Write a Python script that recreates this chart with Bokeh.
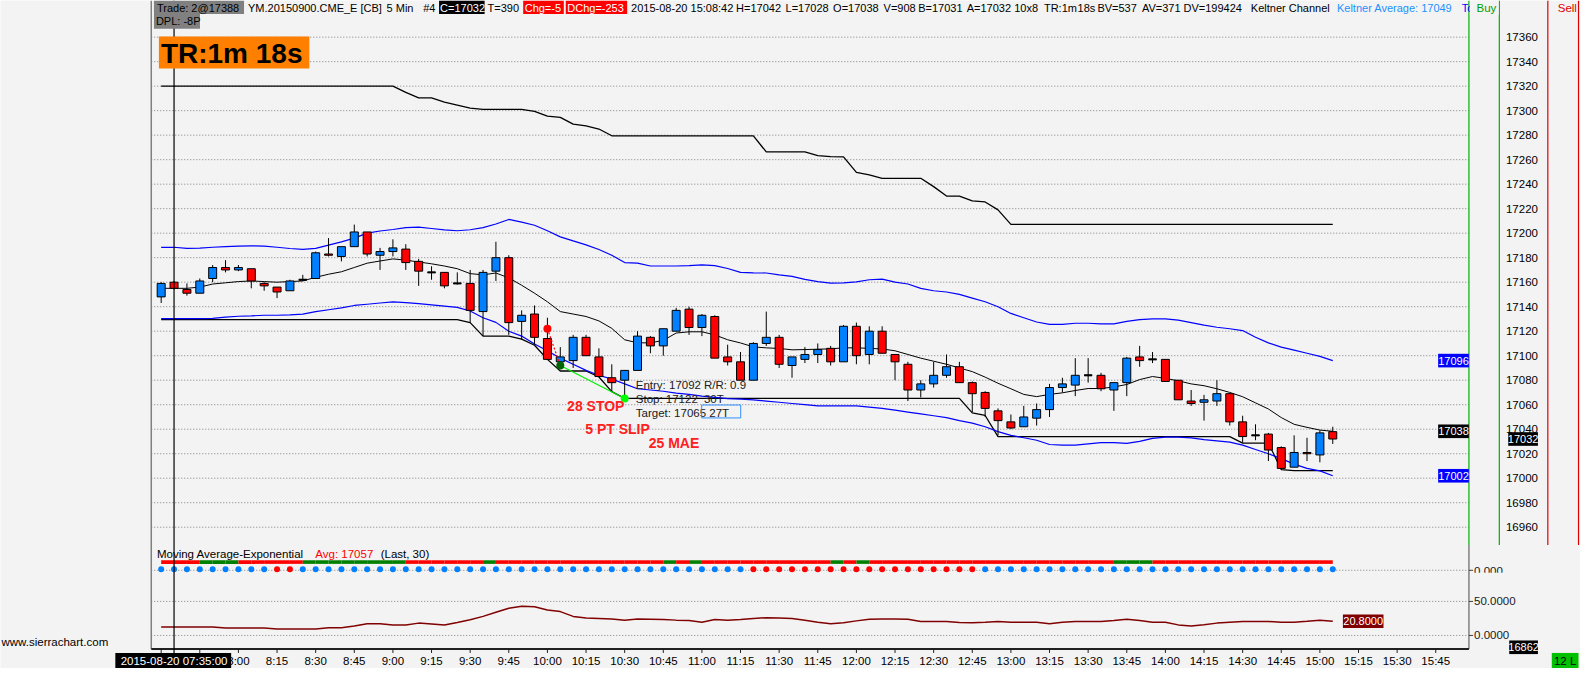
from bokeh.plotting import figure
from bokeh.models import Range1d
from bokeh.core.properties import value
from bokeh.embed import file_html
from bokeh.resources import INLINE

# ---------------- data ----------------
opens = [17148, 17160, 17154, 17151, 17163, 17172, 17170, 17171, 17159, 17156,
         17153, 17162, 17163, 17183, 17181, 17189, 17201, 17182, 17185, 17187,
         17177, 17168, 17168, 17159, 17159, 17136, 17169, 17180, 17128, 17134,
         17114, 17095, 17096, 17115, 17099, 17082, 17080, 17088, 17115, 17108,
         17120, 17138, 17123, 17132, 17099, 17095, 17080, 17110, 17115, 17092,
         17097, 17101, 17106, 17095, 17124, 17101, 17120, 17101, 17093, 17072,
         17077, 17084, 17091, 17078, 17070, 17055, 17046, 17042, 17049, 17056,
         17074, 17076, 17084, 17084, 17072, 17078, 17099, 17097, 17097, 17080,
         17063, 17062, 17063, 17069, 17046, 17035, 17036, 17025, 17009, 17021,
         17019, 17038]
highs = [17160, 17161, 17159, 17163, 17174, 17178, 17174, 17171, 17160, 17156,
         17162, 17166, 17185, 17196, 17189, 17207, 17201, 17188, 17195, 17191,
         17179, 17173, 17168, 17168, 17170, 17170, 17193, 17182, 17137, 17141,
         17131, 17107, 17117, 17117, 17106, 17093, 17088, 17120, 17116, 17122,
         17139, 17140, 17134, 17133, 17109, 17103, 17111, 17136, 17117, 17099,
         17107, 17110, 17108, 17125, 17127, 17124, 17124, 17101, 17095, 17080,
         17095, 17101, 17095, 17079, 17071, 17057, 17052, 17059, 17061, 17077,
         17082, 17098, 17098, 17086, 17078, 17099, 17108, 17103, 17097, 17080,
         17072, 17068, 17080, 17069, 17051, 17044, 17037, 17026, 17035, 17033,
         17039, 17042]
lows = [17143, 17154, 17149, 17151, 17160, 17168, 17169, 17155, 17153, 17147,
        17153, 17161, 17163, 17181, 17177, 17189, 17181, 17170, 17181, 17170,
        17157, 17162, 17155, 17158, 17127, 17116, 17161, 17117, 17113, 17109,
        17097, 17089, 17090, 17100, 17083, 17071, 17065, 17088, 17102, 17100,
        17120, 17117, 17116, 17098, 17092, 17080, 17080, 17108, 17090, 17082,
        17094, 17094, 17092, 17095, 17093, 17093, 17102, 17080, 17063, 17066,
        17074, 17082, 17078, 17054, 17050, 17035, 17040, 17042, 17043, 17050,
        17070, 17067, 17078, 17071, 17055, 17067, 17091, 17094, 17079, 17064,
        17059, 17047, 17059, 17043, 17029, 17031, 17014, 17008, 17009, 17014,
        17013, 17028]
closes = [17159, 17155, 17151, 17161, 17172, 17170, 17172, 17161, 17157, 17152,
          17161, 17162, 17184, 17182, 17189, 17201, 17183, 17185, 17188, 17176,
          17169, 17168, 17157, 17159, 17137, 17168, 17180, 17127, 17133, 17115,
          17097, 17099, 17115, 17100, 17083, 17078, 17088, 17116, 17108, 17122,
          17137, 17123, 17133, 17098, 17095, 17080, 17110, 17115, 17093, 17099,
          17101, 17105, 17095, 17124, 17100, 17120, 17102, 17095, 17072, 17077,
          17084, 17091, 17078, 17069, 17057, 17047, 17041, 17050, 17056, 17074,
          17077, 17084, 17084, 17073, 17078, 17098, 17096, 17097, 17079, 17064,
          17061, 17064, 17069, 17046, 17034, 17035, 17023, 17008, 17021, 17020,
          17037, 17032]
kc_mid = [17155, 17155, 17155, 17156, 17158.5, 17159.5, 17160.5, 17161, 17160.5, 17160,
          17160.5, 17161, 17164, 17166.5, 17168.5, 17172, 17175.5, 17177.3, 17179, 17178,
          17176.5, 17175, 17173.2, 17171, 17167, 17166, 17167.5, 17163.5, 17157.5, 17151,
          17144, 17136, 17134, 17132, 17128.4, 17122.3, 17113, 17110.5, 17110.5, 17112.5,
          17118.5, 17119.5, 17119.5, 17117, 17113, 17110.4, 17107.2, 17106.4, 17105.9, 17104.8,
          17105, 17105.3, 17105.6, 17106.4, 17106.4, 17106, 17105.5, 17104, 17101, 17098,
          17095.5, 17093, 17090, 17087, 17082.5, 17077.5, 17073, 17068.4, 17066.6, 17068.4,
          17069.7, 17071.6, 17073.2, 17073.2, 17074.5, 17076.5, 17080.5, 17083, 17081.5, 17079.5,
          17077, 17075.5, 17073, 17070, 17066.5, 17061.5, 17056.5, 17049.5, 17044, 17041.5,
          17039.3, 17038.3]
kc_upper = [17188.4, 17188.5, 17187.6, 17187.8, 17188.5, 17189, 17189.5, 17189.7, 17189.5, 17188.5,
            17187.5, 17186.8, 17187.6, 17190.2, 17192.9, 17196, 17200, 17201.8, 17203, 17204.5,
            17204.9, 17203.8, 17202.7, 17202, 17202.8, 17204.5, 17207.5, 17211.2, 17209, 17206.5,
            17202, 17197, 17193.7, 17190.5, 17186.7, 17182, 17176, 17175.5, 17173.2, 17173.2,
            17173.2, 17173.5, 17174.2, 17173.5, 17171.2, 17168, 17167.6, 17167.5, 17166, 17164.8,
            17162.3, 17160.5, 17159.2, 17159.5, 17160.3, 17162, 17162.5, 17160, 17158.5, 17155,
            17153, 17152, 17150, 17147, 17144, 17140, 17134.5, 17131, 17127.5, 17125.5,
            17125.5, 17126.5, 17126.5, 17126, 17126, 17128, 17129.5, 17130, 17130, 17129,
            17127, 17125, 17123.2, 17122, 17120.5, 17115, 17110.5, 17107, 17104.5, 17102,
            17099.5, 17096]
kc_lower = [17130.2, 17130.2, 17130.2, 17130.2, 17130.5, 17131.5, 17132.2, 17132.5, 17133, 17133,
            17133.3, 17134, 17136, 17137.5, 17139, 17141, 17142, 17143, 17144, 17143.3,
            17142.5, 17141.5, 17140.5, 17139.5, 17136.5, 17131, 17127.2, 17120, 17116, 17109.5,
            17104, 17098, 17093, 17088, 17084, 17081, 17077, 17073, 17072, 17071,
            17069.5, 17068.5, 17067, 17066, 17065, 17064.5, 17064, 17063, 17062, 17061,
            17060, 17059, 17059, 17059, 17059, 17058, 17057, 17055.5, 17054, 17052.5,
            17051, 17049.5, 17047, 17045, 17042, 17038, 17035, 17033, 17031, 17027.5,
            17027, 17027, 17028, 17029, 17029, 17028.5, 17030, 17032.5, 17033.5, 17033.5,
            17033, 17031.5, 17030.5, 17029.5, 17027, 17023.4, 17020, 17016, 17011.5, 17008,
            17006, 17002]
dc_high = [17320, 17320, 17320, 17320, 17320, 17320, 17320, 17320, 17320, 17320,
           17320, 17320, 17320, 17320, 17320, 17320, 17320, 17320, 17320, 17315,
           17310.5, 17310.5, 17307, 17304.5, 17302, 17301, 17301, 17301, 17301, 17299.5,
           17295.5, 17294.5, 17289, 17287.5, 17285, 17279.5, 17279.5, 17279.5, 17279.5, 17279.5,
           17279.5, 17279.5, 17279.5, 17279.5, 17279.5, 17279.5, 17279.5, 17266.3, 17266.3, 17266.3,
           17266.3, 17263.3, 17262.5, 17262.3, 17249.6, 17247.5, 17244.8, 17244.8, 17244.8, 17244.8,
           17238, 17230.3, 17230.3, 17226.3, 17225.5, 17219, 17207.2, 17207.2, 17207.2, 17207.2,
           17207.2, 17207.2, 17207.2, 17207.2, 17207.2, 17207.2, 17207.2, 17207.2, 17207.2, 17207.2,
           17207.2, 17207.2, 17207.2, 17207.2, 17207.2, 17207.2, 17207.2, 17207.2, 17207.2, 17207.2,
           17207.2, 17207.2]
dc_low = [17129.5, 17129.5, 17129.5, 17129.5, 17129.5, 17129.5, 17129.5, 17129.5, 17129.5, 17129.5,
          17129.5, 17129.5, 17129.5, 17129.5, 17129.5, 17129.5, 17129.5, 17129.5, 17129.5, 17129.5,
          17129.5, 17129.5, 17129.5, 17129.5, 17127, 17116, 17116, 17116, 17113.5, 17108.5,
          17097, 17087.5, 17087.5, 17087.5, 17082.6, 17070.7, 17065.2, 17065.2, 17065.2, 17065.2,
          17065.2, 17065.2, 17065.2, 17065.2, 17065.2, 17065.2, 17065.2, 17065.2, 17065.2, 17065.2,
          17065.2, 17065.2, 17065.2, 17065.2, 17065.2, 17065.2, 17065.2, 17065.2, 17065.2, 17065.2,
          17065.2, 17065.2, 17065.2, 17053.3, 17051.2, 17034, 17034, 17034, 17034, 17034,
          17034, 17034, 17034, 17034, 17034, 17034, 17034, 17034, 17034, 17034,
          17034, 17034, 17034, 17034, 17028.7, 17028.7, 17028.7, 17007, 17006.2, 17006.2,
          17006.2, 17006.2]
osc = [12.4, 12.4, 12.4, 12.4, 12.4, 11.0, 11.0, 11.0, 11.0, 9.5,
       9.5, 9.5, 9.5, 11.4, 11.4, 13.8, 17.1, 17.1, 15.2, 15.2,
       18.1, 16.7, 15.2, 19.0, 23.0, 28.0, 34.0, 40.0, 43.0, 42.0,
       37.5, 35.0, 28.0, 25.5, 25.0, 24.3, 22.4, 24.0, 23.8, 23.5,
       22.5, 21.9, 19.5, 23.3, 22.4, 23.5, 25.0, 26.0, 25.5, 24.8,
       22.4, 19.5, 17.1, 18.5, 21.4, 23.8, 24.3, 24.3, 23.8, 20.5,
       20.5, 20.5, 19.0, 18.6, 19.5, 20.5, 19.5, 19.5, 19.5, 17.1,
       19.5, 20.5, 20.5, 20.5, 21.9, 23.8, 21.9, 19.5, 19.5, 15.5,
       13.8, 15.7, 18.1, 19.5, 20.5, 20.5, 20.5, 19.5, 19.5, 20.9,
       22.4, 20.8]
# EMA colour bar state per bar (R = falling, G = rising) and dot state (B = blue, R = red)
ema_bar_codes = ("RRRR" + "GGG" + "RRRRR" + "GGGGGGGG" + "RRRRRR" + "G" + "RRRRRRRRRRRRR" + "G" + "R" + "G"
                 + "RRRRRRRRRR" + "G" + "R" + "G" + "RRRRRRRRRRRRRRRRRRR" + "GGG" + "RRRRRRRRRRRRRR")
ema_dot_codes = ("BBBBBBBBB" + "RR" + "BBBBBBBBBBBBBBBBBBBBBBBBBBBBBBBBBBB"
                 + "RRRRRRRRRRRRRRRRRR" + "BBBBBBBBBBBBBBBBBBBBBBBBBBBB")
price_ticks = [16960, 16980, 17000, 17020, 17040, 17060, 17080, 17100, 17120, 17140, 17160,
               17180, 17200, 17220, 17240, 17260, 17280, 17300, 17320, 17340, 17360]
time_tick_bars = [0, 3, 6, 9, 12, 15, 18, 21, 24, 27, 30, 33, 36, 39, 42, 45, 48, 51, 54, 57,
                  60, 63, 66, 69, 72, 75, 78, 81, 84, 87, 90, 93, 96, 99]
time_tick_labels = ["7:30", "7:45", "8:00", "8:15", "8:30", "8:45", "9:00", "9:15", "9:30", "9:45",
                    "10:00", "10:15", "10:30", "10:45", "11:00", "11:15", "11:30", "11:45", "12:00", "12:15",
                    "12:30", "12:45", "13:00", "13:15", "13:30", "13:45", "14:00", "14:15", "14:30", "14:45",
                    "15:00", "15:15", "15:30", "15:45"]
osc_ticks = [0, 50]
osc_tick_labels = ["0.0000", "50.0000"]
trade_stop, trade_entry, trade_target = 17122, 17092, 17065
stop_bar, entry_bar, target_bar = 30, 31, 36
cursor_bar = 1
scale_low_value = 16862

# header tokens and their left x (reference pixels)
header_tokens = ["YM.20150900.CME_E [CB]", "5 Min", "#4", "T=390",
                 "2015-08-20", "15:08:42", "H=17042", "L=17028", "O=17038", "V=908", "B=17031",
                 "A=17032", "10x8", "TR:1m", "18s", "BV=537", "AV=371", "DV=199424", "Keltner Channel"]
header_x = [250, 390, 427, 492, 637, 697, 743, 793, 841, 892, 927, 976, 1024, 1054, 1088, 1108,
            1153, 1195, 1263]

n = len(closes)
bars = list(range(n))

# ---------------- geometry (reference pixel frame 1596 x 687) ----------------
REF_W, REF_H = 1596, 687
FIG_W, FIG_H = 1580, 668
BAR0_X, BAR_DX = 162.3, 13.005
P_REF, P_REF_Y, PX_PT = 17100, 365.3, 1.26
OSC0_Y, OSC_PX = 653, 0.7
SY = FIG_H / REF_H
FONT = "Liberation Sans"
BG = "#f3f3f3"
BLUE_C, RED_C = "#0080ff", "#ff0000"

p = figure(width=FIG_W, height=FIG_H, title=None, output_backend="svg", toolbar_location=None,
           x_axis_location=None, y_axis_location=None,
           x_range=Range1d((0 - BAR0_X) / BAR_DX, (REF_W - BAR0_X) / BAR_DX),
           y_range=Range1d(P_REF - (REF_H - P_REF_Y) / PX_PT, P_REF + P_REF_Y / PX_PT),
           background_fill_color=BG, border_fill_color=BG, outline_line_color=None)
p.min_border_left = p.min_border_right = p.min_border_top = p.min_border_bottom = 0
p.xgrid.visible = False
p.ygrid.visible = False
p.extra_x_ranges = {"pxx": Range1d(0, REF_W)}
p.extra_y_ranges = {"px": Range1d(REF_H, 0),
                    "osc": Range1d((OSC0_Y - REF_H) / OSC_PX, OSC0_Y / OSC_PX)}


def T(x, y, s, color="#000000", size=11, align="left", baseline="middle", bold=False,
      xr="pxx", yr="px"):
    p.text(x=[x], y=[y], text=[s], text_color=color, text_font=value(FONT),
           text_font_size=f"{size}px", text_align=align, text_baseline=baseline,
           text_font_style="bold" if bold else "normal", x_range_name=xr, y_range_name=yr)


def BOX(x0, y0, x1, y1, fill, line=None, lw=1):
    p.quad(left=[x0], right=[x1], top=[y0], bottom=[y1], fill_color=fill, line_color=line,
           line_width=lw, x_range_name="pxx", y_range_name="px")


def SEG(x0, y0, x1, y1, color, lw=1.0, dash="solid"):
    p.segment(x0=[x0], y0=[y0], x1=[x1], y1=[y1], line_color=color, line_width=lw,
              line_dash=dash, x_range_name="pxx", y_range_name="px")


PL, PR = 152.3, 1483.3   # plot area left / right edge

# ---------------- grid lines ----------------
p.segment(x0=[PL] * len(price_ticks), x1=[PR] * len(price_ticks), y0=price_ticks, y1=price_ticks,
          line_color="#808080", line_width=1, line_dash="1 2", x_range_name="pxx")
p.segment(x0=[PL] * len(osc_ticks), x1=[PR] * len(osc_ticks), y0=osc_ticks, y1=osc_ticks,
          line_color="#808080", line_width=1, line_dash="1 2", x_range_name="pxx", y_range_name="osc")
SEG(PL, 586, PR, 586, "#808080", 1, "1 2")

# ---------------- study lines ----------------
p.line(bars, dc_high, line_color="black", line_width=1.3)
p.line(bars, dc_low, line_color="black", line_width=1.3)
p.line(bars, kc_upper, line_color="#0000ff", line_width=1.2)
p.line(bars, kc_lower, line_color="#0000ff", line_width=1.2)
p.line(bars, kc_mid, line_color="black", line_width=1)

# ---------------- candles ----------------
tops = [max(o, c) for o, c in zip(opens, closes)]
bots = [min(o, c) for o, c in zip(opens, closes)]
cols = [BLUE_C if c > o else (RED_C if c < o else "#000000") for o, c in zip(opens, closes)]
p.segment(x0=bars, y0=lows, x1=bars, y1=highs, line_color="black", line_width=1)
p.vbar(x=bars, width=0.62, top=tops, bottom=bots, fill_color=cols, line_color="black", line_width=1)
doji = [i for i in bars if opens[i] == closes[i]]
p.segment(x0=[i - 0.31 for i in doji], x1=[i + 0.31 for i in doji], y0=[closes[i] for i in doji],
          y1=[closes[i] for i in doji], line_color="black", line_width=2)

# ---------------- trade markers ----------------
p.line([stop_bar, entry_bar], [trade_stop, trade_entry], line_color="#ff0000", line_width=1.2,
       line_dash="2 2")
p.line([entry_bar, target_bar], [trade_entry, trade_target], line_color="#00ee00", line_width=1.2)
p.scatter([stop_bar], [trade_stop], size=8, marker="circle", fill_color="#ff0000", line_color=None)
p.scatter([entry_bar], [trade_entry], size=8, marker="circle", fill_color="#006400", line_color=None)
p.scatter([target_bar], [trade_target], size=8, marker="circle", fill_color="#00ff00", line_color=None)

# ---------------- lower subgraphs ----------------
seg_l = [i - 1 for i in bars[1:]]
seg_r = bars[1:]
seg_c = ["#008000" if ema_bar_codes[i] == "G" else "#ff0000" for i in bars[1:]]
p.quad(left=seg_l, right=seg_r, top=[575.7] * len(seg_l), bottom=[579.4] * len(seg_l),
       fill_color=seg_c, line_color=None, y_range_name="px")
dot_c = [RED_C if ema_dot_codes[i] == "R" else BLUE_C for i in bars]
p.scatter(bars, [585] * n, size=6, marker="circle", fill_color=dot_c, line_color=None,
          y_range_name="px")
p.line(bars, osc, line_color="#800000", line_width=1.5, y_range_name="osc")

# ---------------- borders ----------------
SEG(PL, 0, PL, 667, "#808080", 1.5)
SEG(PR, 0, PR, 560, "#00b000", 1.2)
SEG(PR, 560, PR, 667, "#808080", 1.5)
SEG(1514, 0, 1514, 560, "#00b000", 1.2)
SEG(1563, 0, 1563, 560, "#e00000", 1.2)
SEG(1594, 0, 1594, 560, "#e00000", 1.2)
SEG(PL, 667, PR, 667, "#202020", 2)
p.segment(x0=[cursor_bar], x1=[cursor_bar], y0=[0], y1=[671], line_color="black", line_width=1.2,
          y_range_name="px")

# ---------------- x axis ----------------
p.segment(x0=time_tick_bars, x1=time_tick_bars, y0=[667] * len(time_tick_bars),
          y1=[671] * len(time_tick_bars), line_color="#202020", line_width=1, y_range_name="px")
p.text(x=time_tick_bars, y=[679] * len(time_tick_bars), text=time_tick_labels, text_color="#000000",
       text_font=value(FONT), text_font_size="11.5px", text_align="center", text_baseline="middle",
       y_range_name="px")
BOX(116, 671, 233, 687, "#000000")
T(121.4, 679, "2015-08-20", "#ffffff", size=11.5)
T(184, 679, "07:35:00", "#ffffff", size=11.5)
T(1, 660, "www.sierrachart.com", size=11.5)

# ---------------- right price scale ----------------
p.text(x=[1553] * len(price_ticks), y=price_ticks, text=[str(t) for t in price_ticks],
       text_color="#000000", text_font=value(FONT), text_font_size="11.5px", text_align="right",
       text_baseline="middle", x_range_name="pxx")


def value_box(xc, w, yv, txt, fill, tcolor="#ffffff", yr="default"):
    p.rect(x=[xc], y=[yv], width=[w], height=[14 * SY], height_units="screen", fill_color=fill,
           line_color=None, x_range_name="pxx", y_range_name=yr)
    p.text(x=[xc], y=[yv], text=[txt], text_color=tcolor, text_font=value(FONT),
           text_font_size="11px", text_align="center", text_baseline="middle",
           x_range_name="pxx", y_range_name=yr)


value_box(1467.7, 31, kc_upper[-1], f"{kc_upper[-1]:.0f}", "#0000ff")
value_box(1467.7, 31, kc_mid[-1], f"{kc_mid[-1]:.0f}", "#000000")
value_box(1467.7, 31, kc_lower[-1], f"{kc_lower[-1]:.0f}", "#0000ff")
value_box(1538, 30, closes[-1], f"{closes[-1]}", "#000000")
value_box(1538.5, 29, scale_low_value, f"{scale_low_value}", "#000000")
value_box(1376.5, 41, osc[-1], f"{osc[-1]:.4f}", "#800000", yr="osc")

# oscillator scale
p.segment(x0=[PR] * 2, x1=[1487.5] * 2, y0=osc_ticks, y1=osc_ticks, line_color="#404040",
          line_width=1, x_range_name="pxx", y_range_name="osc")
p.text(x=[1488.5] * 2, y=osc_ticks, text=osc_tick_labels, text_color="#202020", text_font=value(FONT),
       text_font_size="11.5px", text_align="left", text_baseline="middle", x_range_name="pxx",
       y_range_name="osc")
SEG(PR, 586, 1487.5, 586, "#404040", 1)
T(1488.5, 582.5, "0.000", "#202020", baseline="top", size=11.5)
BOX(1484.5, 588.6, 1540, 598, BG)
BOX(1567, 671, 1594, 687, "#00c000")
T(1580.5, 679, "12 L", "#000000", align="center", size=11.5)

# ---------------- header ----------------
BOX(155, 0, 246, 14, "#808080")
T(158, 7.5, "Trade: 2@17388")
BOX(155, 14, 201.5, 29, "#808080")
T(157, 21.5, "DPL: -8P")
for tok, tx in zip(header_tokens, header_x):
    T(tx, 7.5, tok)
BOX(443, 0, 489, 14, "#000000")
T(444, 7.5, "C=17032", "#ffffff")
BOX(528, 0, 569, 14, "#ff0000")
T(529.5, 7.5, "Chg=-5", "#ffffff")
BOX(571, 0, 633, 14, "#ff0000")
T(572.5, 7.5, "DChg=-253", "#ffffff")
T(1350, 7.5, "Keltner Average: 17049", "#1e90ff")
T(1476, 7.5, "To", "#0000ff")
BOX(1484.2, 0, 1513.4, 15, BG)
T(1491, 7.5, "Buy", "#00a000", size=11.5)
T(1573, 7.5, "Sell", "#e00000", size=11.5)

BOX(160, 37, 312, 70, "#ff8000")
T(162, 54, "TR:1m 18s", bold=True, size=28)

# subgraph title
T(158, 569, "Moving Average-Exponential", size=11.5)
T(318, 569, "Avg: 17057", "#ff0000", size=11.5)
T(384, 569, "(Last, 30)", size=11.5)

# trade texts
T(641.7, 395, f"Entry: {trade_entry}", "#202020", size=11.5)
T(710.5, 395, "R/R: 0.9", "#202020", size=11.5)
T(641.7, 409.5, f"Stop: {trade_stop}", "#202020", size=11.5)
T(710.5, 409.5, "30T", "#202020", size=11.5)
T(641.7, 424.5, f"Target: {trade_target}", "#202020", size=11.5)
T(716, 424.5, "27T", "#202020", size=11.5)
BOX(708.3, 416, 747.7, 429.3, None, "#3090ff", 1)
T(601.3, 417.5, "28 STOP", "#ff2020", size=14, align="center", bold=True)
T(623.3, 440.8, "5 PT SLIP", "#ff2020", size=14, align="center", bold=True)
T(680.3, 454.8, "25 MAE", "#ff2020", size=14, align="center", bold=True)

open("out.html", "w").write(file_html(p, INLINE))
